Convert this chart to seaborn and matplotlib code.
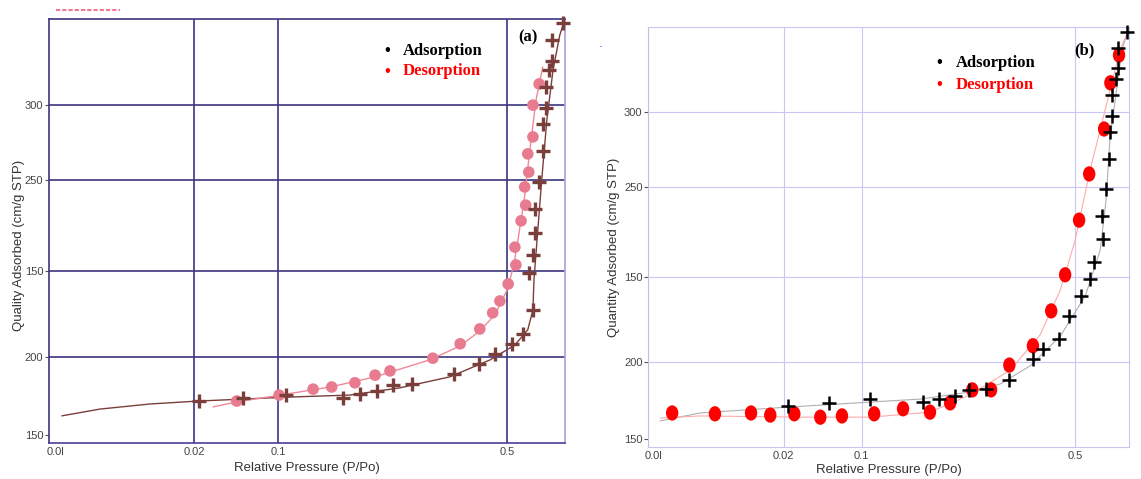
import matplotlib
matplotlib.use("Agg")
import matplotlib.pyplot as plt
import seaborn as sns
from matplotlib.markers import MarkerStyle
from matplotlib.transforms import Affine2D
from matplotlib.lines import Line2D

# positions are given in percent of each plot box (the source axes are not to scale)
x_ticks = [1.2, 28.2, 44.4, 88.8]
x_labels = ["0.0l", "0.02", "0.1", "0.5"]
y_ticks = [2.0, 20.3, 40.5, 62.0, 79.8]
y_labels = ["150", "200", "150", "250", "300"]

# panel (a)
a_ads_x = [29.1, 37.6, 45.9, 57.0, 60.3, 63.6, 66.7, 70.3, 78.5, 83.3, 86.4, 89.7, 91.9, 93.8,
           93.0, 93.8, 94.2, 94.2, 95.0, 95.7, 95.7, 96.3, 96.3, 96.9, 97.5, 97.5, 99.6]
a_ads_y = [9.9, 10.6, 11.3, 10.6, 11.6, 12.3, 13.7, 13.9, 16.3, 18.6, 21.0, 23.4, 25.7, 31.4,
           40.1, 44.3, 49.5, 55.2, 61.6, 68.9, 75.2, 79.0, 84.0, 88.0, 90.1, 95.0, 99.1]
a_des_x = [36.4, 44.6, 51.2, 54.8, 59.3, 63.2, 66.1, 74.4, 79.7, 83.5, 86.0, 87.4, 89.0, 90.5,
           90.3, 91.5, 92.4, 92.2, 93.0, 92.8, 93.8, 93.8, 95.0]
a_des_y = [9.9, 11.3, 12.7, 13.2, 14.2, 16.0, 17.0, 20.0, 23.4, 26.9, 30.7, 33.5, 37.5, 42.0,
           46.2, 52.4, 56.1, 60.4, 63.9, 68.2, 72.2, 79.7, 84.7]
a_ads_fit_x = [2.5, 9.9, 19.6, 29.1, 45.9, 58.3, 68.0, 77.7, 85.5, 90.3, 92.8, 93.8, 94.0,
               94.6, 95.5, 96.5, 97.7, 99.0, 100.0]
a_ads_fit_y = [6.4, 8.0, 9.2, 9.9, 10.8, 11.3, 13.0, 15.6, 19.6, 23.1, 26.7, 31.4, 38.4,
               47.9, 62.0, 76.2, 88.0, 96.2, 100.0]
a_des_fit_x = [31.8, 36.4, 44.8, 54.5, 63.2, 73.8, 79.7, 83.5, 86.4, 88.8, 90.1, 90.9, 92.1,
               93.2, 94.4, 95.7]
a_des_fit_y = [8.5, 9.7, 11.3, 13.2, 15.6, 19.6, 22.9, 26.4, 30.2, 36.1, 42.0, 47.9, 57.3,
               69.1, 80.9, 88.7]

# panel (b)
b_ads_x = [29.1, 37.6, 46.2, 57.2, 60.5, 63.8, 66.7, 70.3, 75.1, 80.0, 82.1, 85.5, 87.5, 90.0,
           91.9, 92.7, 94.6, 94.4, 95.2, 95.8, 96.1, 96.5, 96.5, 97.3, 97.7, 97.7, 99.6]
b_ads_y = [9.8, 10.5, 11.4, 10.7, 11.4, 12.1, 13.6, 13.8, 16.0, 21.0, 23.3, 25.7, 31.2, 36.0,
           40.0, 44.1, 49.5, 55.0, 61.4, 68.6, 75.0, 78.8, 83.8, 87.6, 90.2, 95.0, 98.8]
b_des_x = [5.0, 13.9, 21.4, 25.4, 30.4, 35.8, 40.3, 47.0, 53.0, 58.6, 62.8, 67.4, 71.3, 75.1,
           80.0, 83.8, 86.7, 89.6, 91.7, 94.8, 96.1, 97.9]
b_des_y = [8.1, 7.9, 8.1, 7.6, 7.9, 7.1, 7.4, 7.9, 9.1, 8.3, 10.5, 13.6, 13.6, 19.5,
           24.1, 32.4, 41.0, 54.0, 65.0, 75.7, 86.7, 93.3]
b_ads_fit_x = [2.5, 10.8, 29.1, 46.2, 56.5, 66.9, 73.2, 79.4, 85.7, 90.9, 94.0, 95.2, 96.0,
               97.1, 98.5, 100.0]
b_ads_fit_y = [6.2, 8.1, 9.5, 10.7, 11.4, 13.1, 15.0, 19.3, 26.4, 36.0, 46.9, 58.8, 73.1,
               82.6, 94.5, 100.0]
b_des_fit_x = [2.5, 10.8, 31.6, 46.2, 58.6, 66.9, 75.3, 81.5, 85.7, 88.8, 91.9, 95.0, 98.1, 100.2]
b_des_fit_y = [6.9, 7.4, 7.1, 7.1, 8.3, 12.4, 18.3, 26.7, 37.4, 49.3, 66.0, 80.2, 94.5, 100.0]

sns.set_style("white")
plt.rcParams["font.family"] = ["Liberation Sans", "DejaVu Sans"]

fig = plt.figure(figsize=(11.41, 4.79), dpi=100)
ax1 = fig.add_axes([0.0429, 0.0752, 0.4522, 0.885])
ax2 = fig.add_axes([0.568, 0.0668, 0.4216, 0.877])

oval = MarkerStyle("o", transform=Affine2D().scale(0.85, 1.05))


def setup(ax, grid_col, grid_lw, spine_cols):
    ax.set_xlim(0, 100)
    ax.set_ylim(0, 100)
    for xv in x_ticks[1:]:
        ax.axvline(xv, color=grid_col, lw=grid_lw, zorder=0)
    for yv in y_ticks[1:]:
        ax.axhline(yv, color=grid_col, lw=grid_lw, zorder=0)
    ax.set_xticks(x_ticks)
    ax.set_xticklabels(x_labels)
    ax.set_yticks(y_ticks)
    ax.set_yticklabels(y_labels)
    ax.tick_params(axis="x", length=0, pad=3, labelsize=8, labelcolor="#444444")
    ax.tick_params(axis="y", length=3, width=0.8, color="#555555", pad=1,
                   labelsize=8, labelcolor="#444444", left=True)
    for side, c in spine_cols.items():
        ax.spines[side].set_color(c)
        ax.spines[side].set_linewidth(grid_lw)
    ax.set_xlabel("Relative Pressure (P/Po)", fontsize=9.5, color="#333333")


# ---- panel (a)
setup(ax1, "#3d3580", 1.2,
      {"left": "#3d3580", "bottom": "#4a3f98", "top": "#3d3580", "right": "#aaa2d6"})
sns.lineplot(x=a_ads_fit_x, y=a_ads_fit_y, sort=False, estimator=None, ax=ax1,
             color="#7a3f3b", lw=1.0)
sns.lineplot(x=a_des_fit_x, y=a_des_fit_y, sort=False, estimator=None, ax=ax1,
             color="#f08898", lw=1.0)
sns.scatterplot(x=a_des_x, y=a_des_y, ax=ax1, color="#e87b90", marker="o", s=70,
                edgecolor="none", zorder=3)
sns.scatterplot(x=a_ads_x, y=a_ads_y, ax=ax1, color="#7a3f3b", marker="+", s=110,
                linewidths=2.4, zorder=4, clip_on=False)
ax1.set_ylabel("Quality Adsorbed (cm/g STP)", fontsize=9.5, color="#333333")
ax1.yaxis.set_label_coords(-0.046, 0.465)
ax1.xaxis.set_label_coords(0.5, -0.045)

ax1.text(65.0, 92.5, "•", fontsize=12, color="black", va="center")
ax1.text(68.5, 92.5, "Adsorption", fontsize=12, color="black", weight="bold",
         family="Liberation Serif", va="center")
ax1.text(65.0, 87.7, "•", fontsize=12, color="red", va="center")
ax1.text(68.5, 87.7, "Desorption", fontsize=12, color="red", weight="bold",
         family="Liberation Serif", va="center")
ax1.text(90.9, 95.6, "(a)", fontsize=12, color="black", weight="bold",
         family="Liberation Serif", va="center")

# ---- panel (b)
setup(ax2, "#c8c8f8", 0.8,
      {"left": "#c0c0dc", "bottom": "#c8c8ec", "top": "#c8c8f8", "right": "#c8c8f8"})
sns.lineplot(x=b_ads_fit_x, y=b_ads_fit_y, sort=False, estimator=None, ax=ax2,
             color="#b0b0b0", lw=0.8)
sns.lineplot(x=b_des_fit_x, y=b_des_fit_y, sort=False, estimator=None, ax=ax2,
             color="#ffaaaa", lw=0.8)
sns.scatterplot(x=b_des_x, y=b_des_y, ax=ax2, color="#ff0000", marker=oval, s=110,
                edgecolor="none", zorder=3)
sns.scatterplot(x=b_ads_x, y=b_ads_y, ax=ax2, color="black", marker="+", s=110,
                linewidths=1.8, zorder=4, clip_on=False)
ax2.set_ylabel("Quantity Adsorbed (cm/g STP)", fontsize=9.5, color="#333333")
ax2.yaxis.set_label_coords(-0.058, 0.476)
ax2.xaxis.set_label_coords(0.5, -0.040)

ax2.text(60.0, 91.5, "•", fontsize=12, color="black", va="center")
ax2.text(64.0, 91.5, "Adsorption", fontsize=12, color="black", weight="bold",
         family="Liberation Serif", va="center")
ax2.text(60.0, 86.2, "•", fontsize=12, color="red", va="center")
ax2.text(64.0, 86.2, "Desorption", fontsize=12, color="red", weight="bold",
         family="Liberation Serif", va="center")
ax2.text(88.5, 94.5, "(b)", fontsize=12, color="black", weight="bold",
         family="Liberation Serif", va="center")

# small leftovers of the source image
fig.add_artist(Line2D([56 / 1141, 120 / 1141], [1 - 10 / 479, 1 - 10 / 479],
                      color="#f07890", lw=1.5, ls=(0, (2, 1))))
fig.text(601 / 1141, 1 - 47 / 479, "·", color="blue", fontsize=8, ha="center", va="center")

fig.savefig("out.png", dpi=100)
